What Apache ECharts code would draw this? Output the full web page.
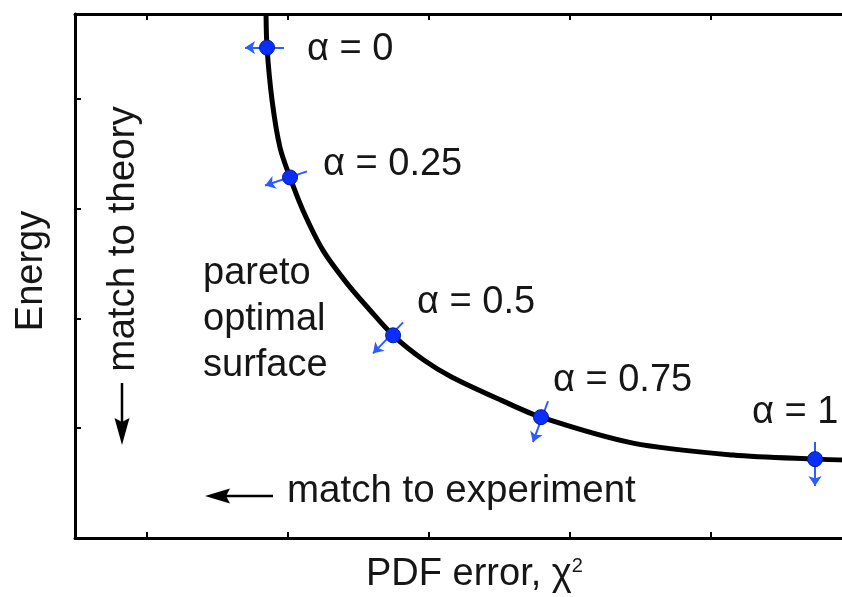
<!DOCTYPE html>
<html>
<head>
<meta charset="utf-8">
<script src="https://cdn.jsdelivr.net/npm/echarts@6/dist/echarts.min.js"></script>
<style>
  html, body { margin: 0; padding: 0; background: #fff; overflow: hidden; }
  /* a little wider than the window: the right edge of the frame is cut off in the original */
  #chart { width: 860px; height: 597px; }
</style>
</head>
<body>
<div id="chart"></div>
<script>
// pareto front (x = PDF error, y = energy)
const curveX = [1.844, 1.851, 1.887, 1.943, 2.014, 2.106, 2.248, 2.418, 2.582, 2.745, 2.965, 3.163, 3.511, 3.794, 4.447, 5.156, 5.738, 5.986]
const curveY = [4.77, 4.464, 3.982, 3.555, 3.282, 2.982, 2.618, 2.318, 2.073, 1.845, 1.618, 1.464, 1.255, 1.100, 0.864, 0.755, 0.718, 0.709]

// weighted solutions along the front
const alphas = ['0', '0.25', '0.5', '0.75', '1']
const pointX = [1.851, 2.014, 2.745, 3.794, 5.738]
const pointY = [4.464, 3.282, 1.845, 1.100, 0.718]

// gradient arrows through each point: back end and tip, as offsets in data units
const arrowBackX = [0.120, 0.121, 0.071, 0.050, 0]
const arrowBackY = [0, 0.055, 0.118, 0.145, 0.155]
const arrowTipX = [-0.156, -0.177, -0.142, -0.057, 0]
const arrowTipY = [0, -0.073, -0.164, -0.227, -0.245]

const xTicks = [1, 2, 3, 4, 5]
const yTicks = [1, 2, 3, 4]

const X_MIN = 0.489, X_MAX = 5.986, Y_MIN = 0, Y_MAX = 4.77
const FONT = "'Liberation Sans', Arial, Helvetica, sans-serif"
const INK = '#161616'
const BLUE = '#0a2eff'
const ARROW_BLUE = '#2a5cff'
// label placement relative to marker centre, px
const LABEL_OFFSET = [[40, 2], [33, -13], [24, -33], [12, -37], [-63, -47]]

const chart = echarts.init(document.getElementById('chart'))

const frameAxis = {
  type: 'value', min: X_MIN, max: X_MAX,
  axisLine: { onZero: false, lineStyle: { color: '#000', width: 3 } },
  axisTick: { inside: true, length: 6, customValues: xTicks, lineStyle: { color: '#000', width: 2 } },
  axisLabel: { show: false },
  splitLine: { show: false }
}

chart.setOption({
  animation: false,
  grid: { left: 75, top: 14, width: 775, height: 524 },
  xAxis: [
    { ...frameAxis, position: 'bottom' },
    { ...frameAxis, position: 'top' }
  ],
  yAxis: {
    type: 'value', min: Y_MIN, max: Y_MAX,
    axisLine: { onZero: false, lineStyle: { color: '#000', width: 3 } },
    axisTick: { inside: true, length: 6, customValues: yTicks, lineStyle: { color: '#000', width: 2 } },
    axisLabel: { show: false },
    splitLine: { show: false }
  },
  series: [
    {
      type: 'line',
      data: curveX.map((x, i) => [x, curveY[i]]),
      smooth: 0.3,
      showSymbol: false,
      symbol: 'none',
      lineStyle: { color: '#000', width: 5 },
      z: 2
    },
    {
      type: 'lines',
      coordinateSystem: 'cartesian2d',
      symbol: ['none', 'arrow'],
      symbolSize: [7, 10],
      lineStyle: { color: ARROW_BLUE, width: 2, opacity: 1, curveness: 0 },
      data: pointX.map((x, i) => ({
        coords: [
          [x + arrowBackX[i], pointY[i] + arrowBackY[i]],
          [x + arrowTipX[i], pointY[i] + arrowTipY[i]]
        ]
      })),
      z: 3
    },
    {
      type: 'scatter',
      symbolSize: 15,
      itemStyle: { color: BLUE, borderColor: '#001a99', borderWidth: 1, opacity: 1 },
      data: pointX.map((x, i) => ({
        value: [x, pointY[i]],
        label: {
          show: true, position: 'inside', align: 'left', verticalAlign: 'middle',
          offset: LABEL_OFFSET[i],
          formatter: 'α = ' + alphas[i],
          fontFamily: FONT, fontSize: 38, color: INK
        }
      })),
      z: 4
    }
  ],
  graphic: [
    { type: 'text', x: 203, y: 320, style: {
      text: 'pareto\noptimal\nsurface', fontFamily: FONT, fontSize: 38, lineHeight: 46,
      fill: INK, align: 'left', verticalAlign: 'middle' } },
    { type: 'text', x: 287, y: 491, style: {
      text: 'match to experiment', fontFamily: FONT, fontSize: 38.5,
      fill: INK, align: 'left', verticalAlign: 'middle' } },
    { type: 'line', shape: { x1: 273, y1: 496, x2: 224, y2: 496 }, style: { stroke: '#000', lineWidth: 2.5 } },
    { type: 'polygon', shape: { points: [[205, 496], [230, 488.5], [226, 496], [230, 503.5]] }, style: { fill: '#000' } },
    { type: 'text', x: 123, y: 239, rotation: Math.PI / 2, style: {
      text: 'match to theory', fontFamily: FONT, fontSize: 38.5,
      fill: INK, align: 'center', verticalAlign: 'middle' } },
    { type: 'line', shape: { x1: 122, y1: 383, x2: 122, y2: 422 }, style: { stroke: '#000', lineWidth: 2.5 } },
    { type: 'polygon', shape: { points: [[122, 445], [114.5, 418], [122, 422], [129.5, 418]] }, style: { fill: '#000' } },
    { type: 'text', x: 32, y: 271, rotation: Math.PI / 2, style: {
      text: 'Energy', fontFamily: FONT, fontSize: 38,
      fill: INK, align: 'center', verticalAlign: 'middle' } },
    { type: 'text', x: 366, y: 575, style: {
      text: '{m|PDF error, χ}{s|2}', fill: INK, align: 'left', verticalAlign: 'middle',
      rich: {
        m: { fontFamily: FONT, fontSize: 38, fill: INK },
        s: { fontFamily: FONT, fontSize: 20, fill: INK, verticalAlign: 'top' }
      } } }
  ]
})
</script>
</body>
</html>
